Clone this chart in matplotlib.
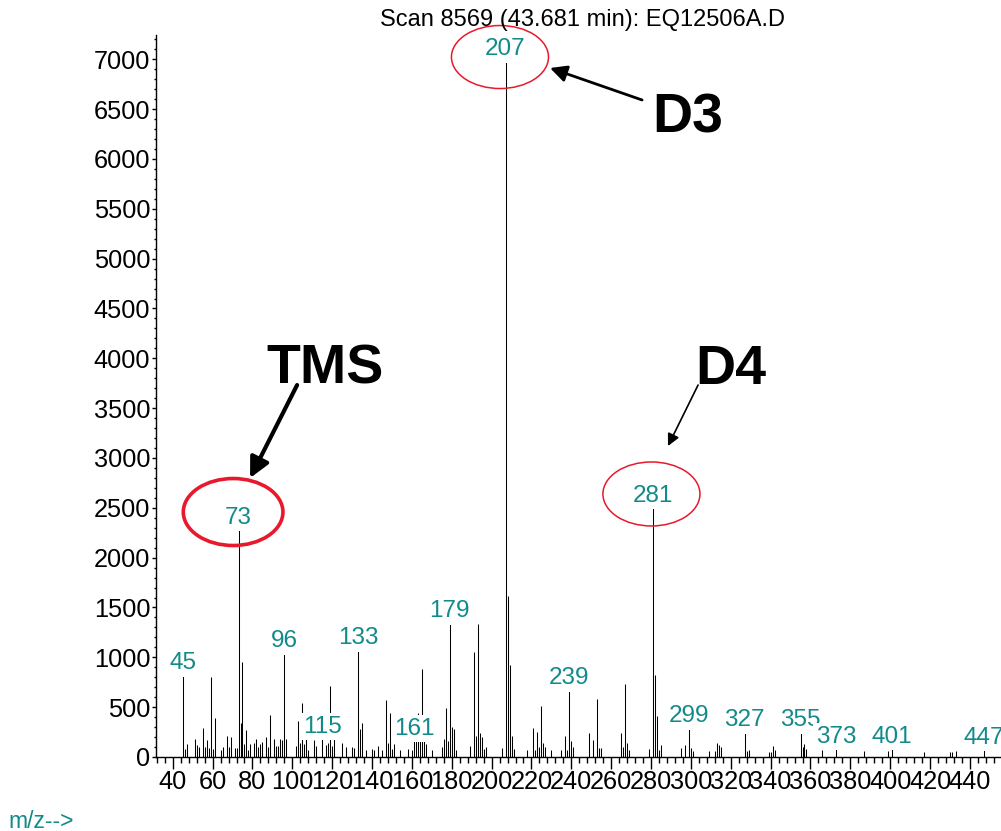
import matplotlib
matplotlib.use('Agg')
import matplotlib.pyplot as plt
from matplotlib.patches import Ellipse
from matplotlib.ticker import MultipleLocator

plt.rc('font', family=['Liberation Sans', 'DejaVu Sans'])

TEAL = '#138a8a'
RED = '#e8192c'

title = 'Scan 8569 (43.681 min): EQ12506A.D'

# m/z and abundance
mz = [45, 46, 47, 51, 52, 53, 55, 56, 57, 58, 59, 60, 61, 64, 65, 67, 68, 69,
      71, 72, 73, 74, 75, 76, 77, 78, 79, 81, 82, 83, 84, 85, 87, 88, 89, 91,
      92, 93, 94, 95, 96, 97, 102, 103, 104, 105, 106, 107, 108, 111, 112,
      115, 117, 118, 119, 120, 121, 125, 127, 130, 131, 133, 134, 135, 137,
      140, 141, 143, 145, 147, 148, 149, 150, 151, 154, 158, 160, 161, 162,
      163, 164, 165, 166, 167, 170, 175, 176, 177, 178, 179, 180, 181, 182,
      189, 191, 192, 193, 194, 195, 196, 197, 205, 207, 208, 209, 210, 211,
      218, 221, 222, 223, 224, 225, 226, 227, 230, 235, 237, 238, 239, 240,
      241, 249, 251, 253, 254, 255, 265, 266, 267, 268, 269, 279, 281, 282,
      283, 284, 285, 295, 297, 299, 300, 301, 309, 312, 313, 314, 315, 327,
      328, 329, 339, 340, 341, 342, 355, 356, 357, 358, 366, 373, 387, 399,
      401, 417, 430, 431, 433, 447]
abundance = [820, 80, 130, 180, 120, 100, 290, 100, 170, 90, 800, 80, 390,
             70, 100, 210, 100, 200, 90, 90, 2280, 340, 950, 130, 270, 70, 130,
             140, 180, 100, 130, 150, 200, 100, 420, 180, 110, 110, 180, 170,
             1040, 180, 110, 360, 140, 540, 130, 180, 70, 170, 110, 180, 120,
             140, 710, 110, 180, 140, 100, 100, 90, 1070, 280, 340, 70, 80, 70,
             110, 70, 570, 145, 440, 85, 130, 70, 80, 70, 160, 160, 440, 160,
             880, 160, 130, 70, 100, 180, 490, 160, 1340, 305, 280, 70, 110,
             1050, 210, 1330, 245, 200, 80, 100, 95, 6980, 1620, 920, 210, 80,
             70, 290, 70, 250, 100, 510, 140, 100, 70, 70, 210, 70, 670, 160,
             100, 240, 170, 580, 90, 90, 245, 100, 730, 145, 70, 80, 2500, 820,
             410, 70, 120, 90, 120, 290, 90, 60, 60, 60, 140, 120, 100, 245,
             60, 70, 50, 50, 110, 70, 245, 100, 130, 80, 70, 80, 60, 60, 80,
             50, 50, 50, 60, 70]
labelled_mz = [45, 73, 96, 115, 133, 161, 179, 207, 239, 281, 299, 327, 355,
               373, 401, 447]

fig = plt.figure(figsize=(10.01, 8.31), dpi=100)
ax = fig.add_axes([156 / 1001, 74 / 831, 845 / 1001, 722 / 831])

ax.vlines(mz, 0, abundance, color='black', lw=0.75, zorder=2)

ax.set_xlim(31.6, 455.6)
ax.set_ylim(0, 7244)
ax.spines['top'].set_visible(False)
ax.spines['right'].set_visible(False)
ax.spines['left'].set_linewidth(1.0)
ax.spines['bottom'].set_linewidth(1.0)

ax.xaxis.set_major_locator(MultipleLocator(20))
ax.xaxis.set_minor_locator(MultipleLocator(4))
ax.yaxis.set_major_locator(MultipleLocator(500))
ax.yaxis.set_minor_locator(MultipleLocator(100))
ax.tick_params(axis='x', which='major', length=8.6, width=1.0, pad=1.0,
               labelsize=18.3)
ax.tick_params(axis='x', which='minor', length=4.3, width=1.0)
ax.tick_params(axis='y', which='major', length=3.2, width=1.0, pad=1.0,
               labelsize=18.3)
ax.tick_params(axis='y', which='minor', length=1.5, width=1.0)

# peak labels with white boxes (they hide the lines behind them)
for m in labelled_mz:
    i = mz.index(m)
    ax.annotate(str(m), (m, abundance[i]), xytext=(0, 4.5),
                textcoords='offset points', ha='center', va='baseline',
                color=TEAL, fontsize=17.5, zorder=3, annotation_clip=False,
                bbox=dict(fc='white', ec='none', pad=2))

fig.text(583 / 1001, 1 - 20 / 831, title, ha='center', va='center',
         fontsize=17)
fig.text(8 / 1001, 1 - 821 / 831, 'm/z-->', ha='left', va='center',
         color=TEAL, fontsize=16.5)

# highlighted peaks
ax.add_patch(Ellipse((70.3, 2458), 50, 672, fill=False, ec=RED, lw=2.6,
                     clip_on=False, zorder=4))
ax.add_patch(Ellipse((204.2, 7023), 48.7, 632, fill=False, ec=RED, lw=1.1,
                     clip_on=False, zorder=4))
ax.add_patch(Ellipse((280.2, 2639), 48.7, 642, fill=False, ec=RED, lw=1.1,
                     clip_on=False, zorder=4))

big = dict(fontsize=40, fontweight='bold', ha='center', va='baseline')
ax.text(116.5, 3752, 'TMS', **big)
ax.text(298.3, 6261, 'D3', **big)
ax.text(319.9, 3742, 'D4', **big)

ax.annotate('', xy=(78.8, 2799), xytext=(102.4, 3732),
            arrowprops=dict(arrowstyle='-|>', color='black', lw=3,
                            mutation_scale=30, shrinkA=0, shrinkB=0))
ax.annotate('', xy=(229.3, 6913), xytext=(275.5, 6592),
            arrowprops=dict(arrowstyle='-|>', color='black', lw=2,
                            mutation_scale=25, shrinkA=0, shrinkB=0))
ax.annotate('', xy=(288.5, 3120), xytext=(303.6, 3732),
            arrowprops=dict(arrowstyle='-|>', color='black', lw=1.2,
                            mutation_scale=18, shrinkA=0, shrinkB=0))

fig.savefig('out.png', dpi=100)
